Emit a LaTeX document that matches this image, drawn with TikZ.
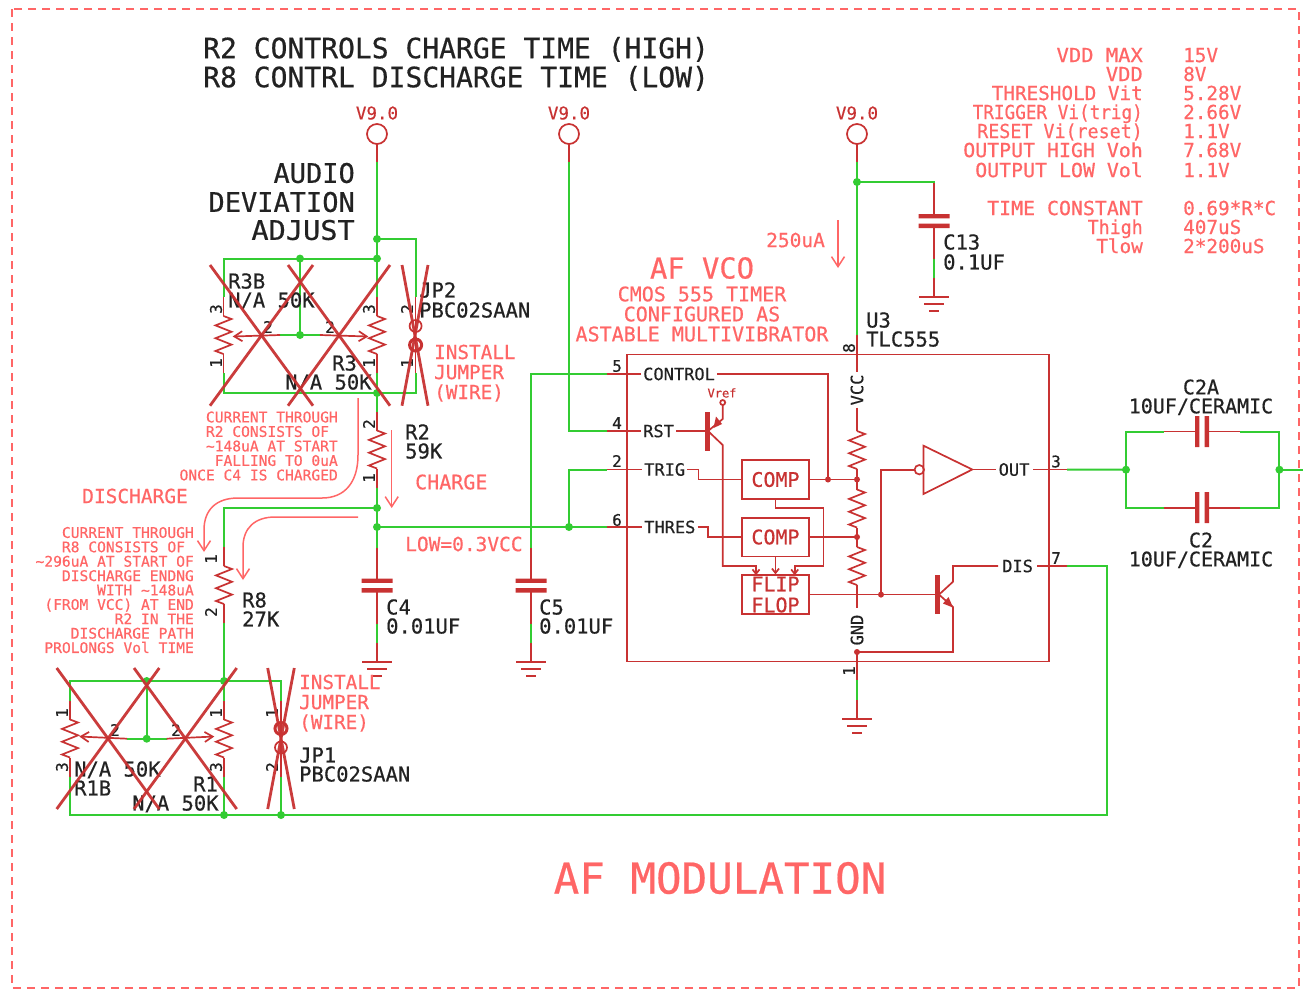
\documentclass[tikz,border=0pt]{standalone}
\usepackage{fontspec}
\setmonofont[FakeBold=0.5]{DejaVu Sans Mono}
\usepackage{tikz}
\usetikzlibrary{calc}
\usetikzlibrary{arrows.meta}
\definecolor{netgreen}{HTML}{33CC33}
\definecolor{partred}{HTML}{C83232}
\definecolor{notered}{HTML}{FF6666}
\definecolor{ink}{HTML}{222222}
\newcommand{\fs}[1]{\fontsize{#1}{#1}\selectfont\ttfamily}
\tikzset{
  wire/.style={netgreen, line width=2pt},
  part/.style={partred, line width=1.7pt},
  thick part/.style={partred, line width=5pt},
  crossline/.style={partred, line width=2.8pt, opacity=0.95},
  noteline/.style={notered, line width=1.5pt, >={Straight Barb[length=10pt,width=13pt]}},
  wiper/.style={part, >={Straight Barb[length=8pt,width=10pt]}},
  inner arrow/.style={part, >={Straight Barb[length=4.5pt,width=7pt]}},
  lab/.style={inner sep=0pt, anchor=base west, yshift=-#1*0.365pt, font=\fs{#1}},
  dark/.style={lab=#1, text=ink},
  note/.style={lab=#1, text=notered},
  redlab/.style={lab=#1, text=partred},
  pinno/.style={inner sep=0pt, text=ink, font=\fs{16}},
  pinname/.style={inner sep=2pt, text=ink, font=\fs{17}, anchor=west},
  block/.style={draw=partred, line width=1.7pt, inner sep=0pt, minimum width=67.6pt, text=partred, font=\fs{20}, align=center},
  zig/.pic={
    \draw[part] (0,-19) -- (8,-16) -- (-8,-9.6) -- (8,-3.2) -- (-8,3.2) -- (8,9.6) -- (-8,16) -- (0,19);
    \coordinate (-t) at (0,-19);
    \coordinate (-b) at (0,19);
  },
  resv/.pic={
    \pic {zig};
    \draw[part] (0,-38) -- (0,-19) (0,19) -- (0,38);
    \coordinate (-t) at (0,-38);
    \coordinate (-b) at (0,38);
  },
  capv/.pic={
    \draw[part] (0,-38) -- (0,-5) (0,5) -- (0,38);
    \fill[partred] (-15.5,-7) rectangle (15.5,-2.6) (-15.5,2.6) rectangle (15.5,7);
    \coordinate (-t) at (0,-38);
    \coordinate (-b) at (0,38);
  },
  gnd/.pic={
    \draw[part] (0,-19) -- (0,0) (-15,0) -- (15,0) (-10,7) -- (10,7) (-5,14) -- (5,14);
    \coordinate (-t) at (0,-19);
  },
  jumper/.pic={
    \draw[part] (0,-38) -- (0,38);
    \draw[part] (0,-9) circle (6);
    \draw[partred, line width=3pt] (0,10) circle (6);
    \coordinate (-t) at (0,-38);
    \coordinate (-b) at (0,38);
  },
  supply/.pic={
    \draw[part] (0,0) circle (10) (0,10) -- (0,28);
    \node[redlab=17.5, anchor=base] (-lab) at (0,-21) {V9.0};
    \coordinate (-t) at (0,28);
  }
}

\begin{document}
\begin{tikzpicture}[x=1pt, y=-1pt]
\useasboundingbox (0,0) rectangle (1303,989);
\fill[white] (0,0) rectangle (1303,989);

\draw[notered, line width=1.5pt, dash pattern=on 8pt off 6pt] (12,9) rectangle (1299,988);

\pic (v1) at (377,134) {supply};
\pic (v2) at (569,134) {supply};
\pic (v3) at (857,134) {supply};
\pic (r3b) at (223.5,335) {resv};
\pic (r3) at (377,335) {resv};
\pic (jp2) at (415.6,335) {jumper};
\pic (r2) at (377,449.5) {resv};
\pic (r8) at (224,585) {resv};
\pic (r1b) at (70,738.5) {resv};
\pic (r1) at (224,738.5) {resv};
\pic[rotate=180] (jp1) at (281,738.5) {jumper};
\pic (c4) at (377,585.5) {capv};
\pic (c5) at (531,585.5) {capv};
\pic (c13) at (934,221) {capv};
\pic[rotate=90] (c2a) at (1202,431.5) {capv};
\pic[rotate=90] (c2) at (1202,507.7) {capv};
\pic (g4) at (377,661.7) {gnd};
\pic (g5) at (531,661.7) {gnd};
\pic (g13) at (934,297) {gnd};
\pic (g3) at (857,719) {gnd};

\foreach \n/\x/\y in {n1/377/239, n2/377/258.6, n3/300/258.6, n4/377/393, n5/377/508, n6/377/527,
  n7/224/681, n8/569/527, n9/857/182, n10/1126/469.7, n11/1279.4/469.7, n12/1107/815, n13/281/815,
  n14/224/815, n15/146.7/681, n16/146.7/738.7, n17/300/335, rim/1303/469.7,
  p1/857/680, p2/607/469.5, p3/1067/469.5, p4/607/431, p5/607/374, p6/607/527, p7/1067/566, p8/857/335,
  w3a/280/335, w3b/320/335, w1a/127/738.7, w1b/166.7/738.7}
  \coordinate (\n) at (\x,\y);

\draw[wire] (v1-t) -- (n1) -- (n2) -- (r3-t);
\draw[wire] (n1) -| (jp2-t);
\draw[wire] (n2) -- (n3) -| (r3b-t);
\draw[wire] (r3b-b) |- (n4) -- (r3-b);
\draw[wire] (jp2-b) |- (n4) -- (r2-t);
\draw[wire] (n3) -- (n17);
\draw[wire] (w3a) -- (w3b);
\draw[wire] (r2-b) -- (n5) -- (n6) -- (c4-t);
\draw[wire] (n5) -| (r8-t);
\draw[wire] (r8-b) -- (n7) -- (r1-t);
\draw[wire] (c4-b) -- (g4-t);
\draw[wire] (n6) -- (p6);
\draw[wire] (n8) |- (p2);
\draw[wire] (v2-t) |- (p4);
\draw[wire] (p5) -| (c5-t);
\draw[wire] (c5-b) -- (g5-t);
\draw[wire] (v3-t) -- (n9) -- (p8);
\draw[wire] (n9) -| (c13-t);
\draw[wire] (c13-b) -- (g13-t);
\draw[wire] (p1) -- (g3-t);
\draw[wire] (p3) -- (n10);
\draw[wire] (n10) |- (c2a-t);
\draw[wire] (n10) |- (c2-t);
\draw[wire] (c2a-b) -| (n11);
\draw[wire] (c2-b) -| (n11);
\draw[wire] (n11) -- (rim);
\draw[wire] (p7) -| (n12) -- (n13) -- (n14) -| (r1b-b);
\draw[wire] (r1-b) -- (n14);
\draw[wire] (jp1-t) -- (n13);
\draw[wire] (jp1-b) |- (n7) -- (n15) -| (r1b-t);
\draw[wire] (n15) -- (n16);
\draw[wire] (w1a) -- (w1b);

\draw[wiper,->] (w3a) -- (232.7,336.5);
\draw[wiper,->] (w3b) -- (368.3,336.5);
\draw[wiper,->] (w1a) -- (79.3,736.5);
\draw[wiper,->] (w1b) -- (214.3,736.5);

\node[draw=partred, line width=1.8pt, minimum width=422.3pt, minimum height=307pt, inner sep=0pt] (u3) at (838,508) {};
\node[block, minimum height=38.7pt] (comp1) at (775.5,479.5) {COMP};
\node[block, minimum height=38.7pt] (comp2) at (775.5,537) {COMP};
\node[block, minimum height=38.7pt] (ff) at (775.5,594.6) {FLIP\\[1pt]FLOP};
\node[pinname] (ctl) at (641,374) {CONTROL};
\node[pinname] (rst) at (641,431) {RST};
\node[pinname] (trg) at (642,469.5) {TRIG};
\node[pinname] (thr) at (642,527) {THRES};
\node[pinname, inner xsep=4pt] (dis) at (998,566) {DIS};
\node[pinname, inner xsep=3pt] (outp) at (995.5,469.5) {OUT};
\node[pinname, anchor=center, rotate=90] (vccl) at (857,390) {VCC};
\node[pinname, anchor=center, rotate=90, inner xsep=6pt] (gndl) at (857,630) {GND};
\pic (rv1) at (857,450) {zig};
\pic (rv2) at (857,508.5) {zig};
\pic (rv3) at (857,566) {zig};
\node[draw=partred, line width=1.7pt, circle, minimum size=9.4pt, inner sep=0pt, fill=white] (bub) at (919.3,469.7) {};

\foreach \n/\x/\y in {a1/698.5/469.5, a2/708/527, a3/775.5/508, a4/823.5/566, f1/756/575.3, f3/794.7/575.3,
  a6/722.7/445, a7/722.7/566, b1/708/431, e1/722.7/419, e2/722.7/405, d1/828/479.5, t1/857/479.5,
  t2/857/537, t3/857/652, d2/881/594.6, b2/939/594.6, c1/953/581.7, c2/953/566, c3/953/607, c4/953/652,
  i1/923.5/445.7, i2/923.5/494, i3/972.3/469.5}
  \coordinate (\n) at (\x,\y);

\draw[part] (p5) -- (ctl.west);
\draw[part] (p4) -- (rst.west);
\draw[part] (p2) -- (trg.west);
\draw[part] (p6) -- (thr.west);
\draw[part] (p7) -- (dis.east);
\draw[part] (p3) -- (outp.east);
\draw[part] (p8) -- (vccl.east);
\draw[part] (vccl.west) -- (rv1-t);
\draw[part] (rv1-b) -- (t1) -- (rv2-t);
\draw[part] (rv2-b) -- (t2) -- (rv3-t);
\draw[part] (rv3-b) -- (gndl.east);
\draw[part] (gndl.west) -- (t3) -- (p1);
\draw[part] (ctl.east) -| (d1);
\draw[part] (comp1.east) -- (t1);
\draw[part] (comp2.east) -- (t2);
\draw[part] (trg.east) -- (a1) |- (comp1.west);
\draw[part] (thr.east) -- (a2) |- (comp2.west);
\draw[inner arrow,->] (comp1.south) -- (a3) -| (a4) -| (f3);
\draw[inner arrow,->] (comp2.south) -- (ff.north);
\draw[inner arrow,->] (b1) -- (a6) -- (a7) -| (f1);
\draw[part] (rst.east) -- (b1) -- (e1) -- (e2);
\draw[part] (722.7,402.5) circle (2.5);
\fill[partred] (713.5,428) -- (722,424) -- (716,416.5) -- cycle;
\draw[thick part] (707,412) -- (707,451);
\draw[part] (ff.east) -- (d2) -- (b2);
\draw[part] (d2) |- (bub.west);
\draw[part] (i1) -- (i2) -- (i3) -- cycle;
\draw[part] (i3) -- (outp.west);
\draw[part] (b2) -- (c1) -- (c2) -- (dis.west);
\draw[part] (b2) -- (c3) -- (c4) -- (t3);
\fill[partred] (953,607.5) -- (943,603.5) -- (948.5,597) -- cycle;
\draw[thick part] (937.3,575) -- (937.3,614);

\foreach \p in {n1,n2,n3,n4,n5,n6,n7,n8,n9,n10,n11,n13,n14,n15,n16,n17}
  \fill[netgreen] (\p) circle (4);
\foreach \p in {d1,t1,t2,t3,d2}
  \fill[partred] (\p) circle (3);

\node[dark=28] (title1) at (203,48) {R2 CONTROLS CHARGE TIME (HIGH)};
\node[dark=28] (title2) at (203,77) {R8 CONTRL DISCHARGE TIME (LOW)};
\node[dark=27, anchor=base east] (adj1) at (355,173) {AUDIO};
\node[dark=27, anchor=base east] (adj2) at (355,202) {DEVIATION};
\node[dark=27, anchor=base east, xscale=1.06] (adj3) at (355,230) {ADJUST};

\foreach \a/\b/\y/\k [count=\i] in {VDD MAX/15V/55/1.06, VDD/8V/74/1.06, THRESHOLD Vit/5.28V/93/1, TRIGGER Vi(trig)/2.66V/112/0.915,
  RESET Vi(reset)/1.1V/131/0.95, OUTPUT HIGH Voh/7.68V/150/1.03, OUTPUT LOW Vol/1.1V/170/1.03,
  TIME CONSTANT/0.69*R*C/208/1.03, Thigh/407uS/227/0.95, Tlow/2*200uS/246/1}{
  \node[note=19.3, anchor=base east, xscale=\k] (tl\i) at (1143,\y) {\a};
  \node[note=19.3] (tv\i) at (1183,\y) {\b};
}

\node[note=28.8, anchor=base] (vco1) at (702,268) {AF VCO};
\node[note=20, anchor=base] (vco2) at (702,294) {CMOS 555 TIMER};
\node[note=20, anchor=base] (vco3) at (702,314) {CONFIGURED AS};
\node[note=20, anchor=base] (vco4) at (702,334) {ASTABLE MULTIVIBRATOR};
\node[note=19.5] (i250) at (766,240) {250uA};
\coordinate (q1) at (838,220);
\coordinate (q2) at (838,268);
\draw[noteline,->] (q1) -- (q2);
\node[note=42.5, anchor=base] (afmod) at (720,878) {AF MODULATION};
\node[note=19.5] (low) at (405,544) {LOW=0.3VCC};
\node[note=20] (chg) at (415,482) {CHARGE};
\node[note=19.5] (dchg) at (82,496) {DISCHARGE};
\coordinate (q3) at (391.7,430);
\coordinate (q4) at (391.7,508);
\draw[noteline,->] (q3) -- (q4);
\coordinate (q5) at (358,398);
\coordinate (q6) at (204,552);
\coordinate (q7) at (358,517);
\coordinate (q8) at (243,580);
\draw[noteline,->] (q5) -- (358,455) .. controls (358,482) and (345,498) .. (322,498) -- (238,498) .. controls (216,498) and (204,510) .. (204,530) -- (q6);
\draw[noteline,->] (q7) -- (275,517) .. controls (255,517) and (243,528) .. (243,547) -- (q8);

\foreach \t [count=\i] in {CURRENT THROUGH, R2 CONSISTS OF\phantom{0}, \textasciitilde 148uA AT START, FALLING TO 0uA, ONCE C4 IS CHARGED}
  \node[note=14.6, anchor=base east] (cur\i) at (338,{417+14.5*(\i-1)}) {\t};
\foreach \t [count=\i] in {CURRENT THROUGH, R8 CONSISTS OF\phantom{0}, \textasciitilde 296uA AT START OF, DISCHARGE ENDNG, WITH \textasciitilde 148uA,
  (FROM VCC) AT END, R2 IN THE, DISCHARGE PATH, PROLONGS Vol TIME}
  \node[note=14.6, anchor=base east] (dis\i) at (194,{532.5+14.39*(\i-1)}) {\t};

\node[note=19.3] (ins1) at (434,352) {INSTALL};
\node[note=19.3] (ins2) at (434,372) {JUMPER};
\node[note=19.3] (ins3) at (434,392) {(WIRE)};
\node[note=19.3] (ins4) at (299,682) {INSTALL};
\node[note=19.3] (ins5) at (299,702) {JUMPER};
\node[note=19.3] (ins6) at (299,722) {(WIRE)};

\foreach \t/\x/\y [count=\i] in {R3B/228/281, N{/}A 50K/228/300, R3/332/363, N{/}A 50K/285/382,
  JP2/419/290, PBC02SAAN/419/310, R2/405/432, 59K/405/451, R8/242/600, 27K/242/619,
  C4/386/607, 0.01UF/386/626, C5/539/607, 0.01UF/539/626, C13/943/242, 0.1UF/943/262,
  U3/866/320, TLC555/866/339, N{/}A 50K/74/769, R1B/74/788, R1/193/784, N{/}A 50K/132/803,
  JP1/299/755, PBC02SAAN/299/774}
  \node[dark=20.5] (val\i) at (\x,\y) {\t};
\node[dark=20, anchor=base] (c2at) at (1201,387) {C2A};
\node[dark=20, anchor=base] (c2av) at (1201,406) {10UF/CERAMIC};
\node[dark=20, anchor=base] (c2t) at (1201,540) {C2};
\node[dark=20, anchor=base] (c2v) at (1201,559) {10UF/CERAMIC};
\node[redlab=12, anchor=base] (vref) at (722,393) {Vref};

\foreach \n/\a/\x/\y [count=\i] in {3/90/216/309, 1/90/216/363, 2/0/268/327, 2/0/330/327, 3/90/369/309, 1/90/369/363,
  2/90/407/309, 1/90/407/363, 2/90/369/424, 1/90/369/478, 1/90/211/559, 2/90/211/612,
  1/90/62/713, 3/90/62/767, 2/0/115/730, 2/0/176/730, 1/90/216/713, 3/90/216/767, 1/90/272/713, 2/90/272/767,
  5/0/617/366, 4/0/617/423, 2/0/617/461, 6/0/617/520, 3/0/1056/461.5, 7/0/1056/558, 8/90/849/348, 1/90/849/671}
  \node[pinno, rotate=\a] (pn\i) at (\x,\y) {\n};

\foreach \xa/\xb in {210/313, 288/390, 402/428}{
  \draw[crossline] (\xa,265) -- (\xb,405.7);
  \draw[crossline] (\xb,265) -- (\xa,405.7);
}
\foreach \xa/\xb in {56.7/159.3, 134/236.7, 267.7/294.3}{
  \draw[crossline] (\xa,668) -- (\xb,809);
  \draw[crossline] (\xb,668) -- (\xa,809);
}

\end{tikzpicture}
\end{document}
